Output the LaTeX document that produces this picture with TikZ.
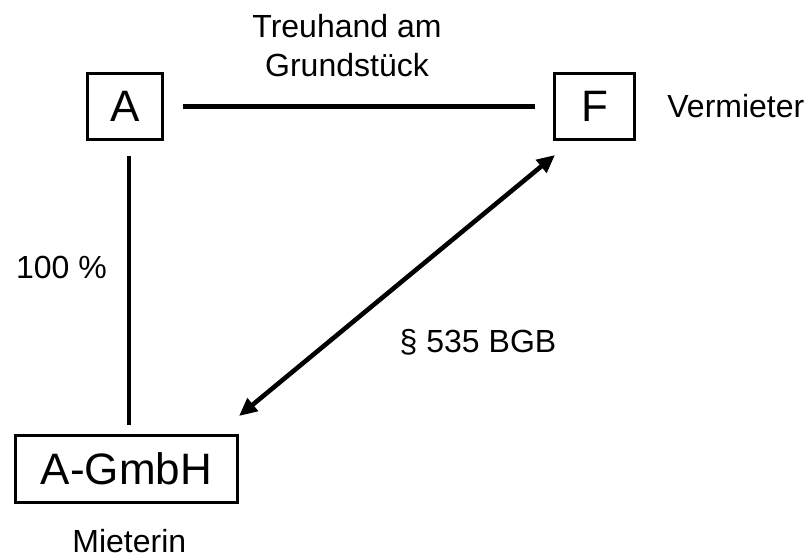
\documentclass[tikz,border=0pt]{standalone}
\usepackage{fontspec}
\setmainfont{Liberation Sans}
\usetikzlibrary{positioning,arrows.meta}

\begin{document}
\begin{tikzpicture}[x=0.5pt, y=-0.5pt, party/.style={draw, line width=1.5pt, inner sep=0pt, minimum height=33pt, font=\fontsize{22}{26}\selectfont}, link/.style={line width=2.3pt}, duallink/.style={{Triangle[length=9pt,width=8pt]}-{Triangle[length=9pt,width=8pt]}, line width=2.3pt}, tag/.style={inner sep=0pt, font=\fontsize{16}{19.5}\selectfont}]
\useasboundingbox (0,0) rectangle (808,556);
\node[party, minimum width=37.5pt] (a) at (125,106.5) {A};
\node[party, minimum width=40pt] (f) at (594.5,106.5) {F};
\node[party, minimum width=111pt, minimum height=33.5pt] (gmbh) at (126.5,469) {A-GmbH};
\node[tag, align=center, anchor=north] (treuhand) at (347,14) {Treuhand am\\Grundstück};
\node[tag, anchor=base west] (vermieter) at (667,118) {Vermieter};
\node[tag, anchor=base] (anteil) at (61.5,278) {100 \%};
\node[tag, anchor=base] (bgb) at (478,352) {\S{} 535 BGB};
\node[tag, anchor=base west] (mieterin) at (72,552) {Mieterin};
\draw[link, shorten <=9.5pt, shorten >=9pt] (a.east) -- (f.west);
\draw[link, shorten <=7.5pt, shorten >=4.5pt] ([xshift=2pt]a.south) -- ([xshift=2pt]a.south |- gmbh.north);
\draw[duallink] ([yshift=9pt]gmbh.north east) -- ([xshift=1pt, yshift=-7pt]f.south west);
\end{tikzpicture}
\end{document}
